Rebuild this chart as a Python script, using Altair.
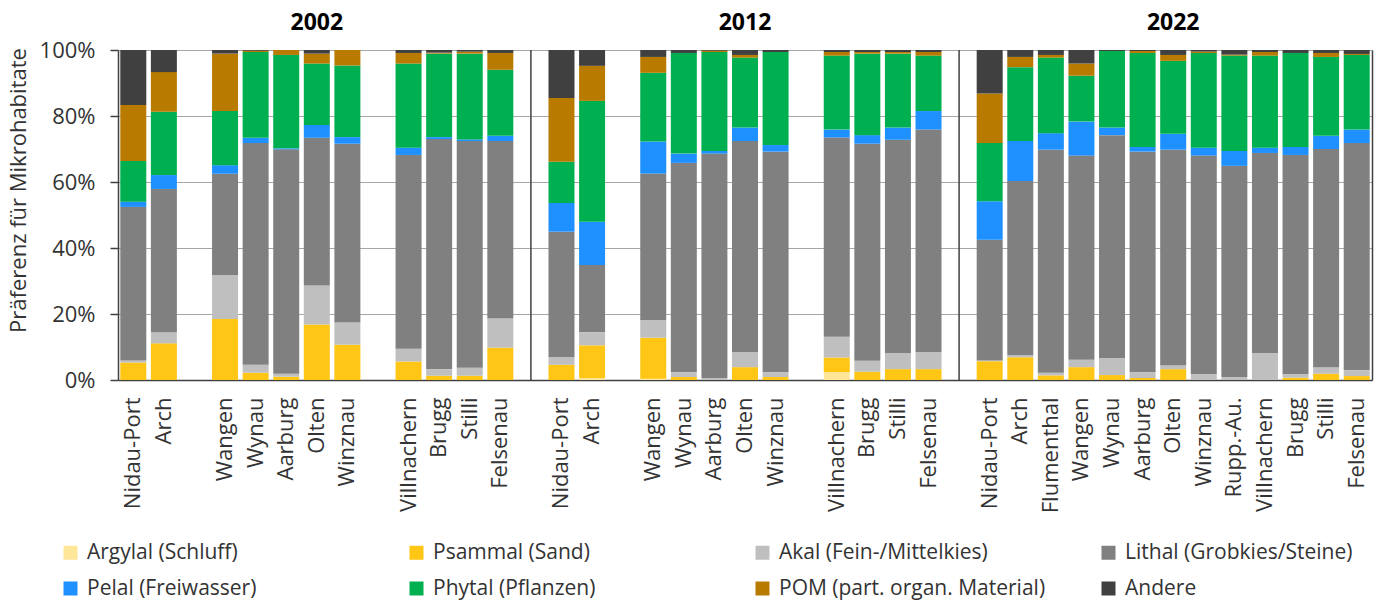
import altair as alt
import pandas as pd

# Microhabitat classes, bottom to top in each stacked bar
HABITATS = [
    "Argylal (Schluff)",
    "Psammal (Sand)",
    "Akal (Fein-/Mittelkies)",
    "Lithal (Grobkies/Steine)",
    "Pelal (Freiwasser)",
    "Phytal (Pflanzen)",
    "POM (part. organ. Material)",
    "Andere",
]
COLORS = ["#FFE699", "#FFC616", "#BFBFBF", "#808080",
          "#1E90FF", "#00B050", "#B97A00", "#404040"]

YEARS = ["2002", "2012", "2022"]

# Station sequence per survey year ("" leaves an empty slot between river sections)
sites_2002 = ["Nidau-Port", "Arch", "", "Wangen", "Wynau", "Aarburg", "Olten",
              "Winznau", "", "Villnachern", "Brugg", "Stilli", "Felsenau"]
sites_2012 = ["Nidau-Port", "Arch", "", "Wangen", "Wynau", "Aarburg", "Olten",
              "Winznau", "", "Villnachern", "Brugg", "Stilli", "Felsenau"]
sites_2022 = ["Nidau-Port", "Arch", "Flumenthal", "Wangen", "Wynau", "Aarburg",
              "Olten", "Winznau", "Rupp.-Au.", "Villnachern", "Brugg", "Stilli",
              "Felsenau"]

# Preference shares (%) per habitat, one value per station (gaps skipped)
pref_2002 = {
    "Argylal (Schluff)":            [0.0, 0.0, 0.0, 0.0, 0.0, 0.0, 0.0, 0.0, 0.0, 0.0, 0.0],
    "Psammal (Sand)":               [5.3, 11.1, 18.5, 2.2, 1.0, 16.8, 10.7, 5.6, 1.3, 1.3, 9.8],
    "Akal (Fein-/Mittelkies)":      [0.6, 3.4, 13.3, 2.4, 0.9, 11.8, 6.7, 3.9, 2.0, 2.4, 8.8],
    "Lithal (Grobkies/Steine)":     [46.6, 43.4, 30.7, 67.2, 68.0, 44.8, 54.2, 58.7, 69.7, 68.7, 53.8],
    "Pelal (Freiwasser)":           [1.6, 4.2, 2.6, 1.6, 0.3, 3.9, 2.0, 2.2, 0.6, 0.5, 1.6],
    "Phytal (Pflanzen)":            [12.3, 19.2, 16.4, 26.0, 28.3, 18.6, 21.7, 25.5, 25.3, 26.0, 20.0],
    "POM (part. organ. Material)":  [17.0, 12.0, 17.4, 0.4, 1.5, 3.0, 4.7, 3.2, 0.3, 0.6, 5.1],
    "Andere":                       [16.7, 6.7, 1.1, 0.2, 0.0, 1.1, 0.0, 0.9, 0.8, 0.5, 0.9],
}
pref_2012 = {
    "Argylal (Schluff)":            [0.0, 0.6, 0.4, 0.0, 0.0, 0.0, 0.0, 2.4, 0.0, 0.0, 0.0],
    "Psammal (Sand)":               [4.6, 9.9, 12.4, 0.9, 0.0, 3.9, 0.9, 4.4, 2.5, 3.3, 3.3],
    "Akal (Fein-/Mittelkies)":      [2.4, 4.0, 5.4, 1.5, 0.6, 4.6, 1.5, 6.3, 3.3, 4.9, 5.2],
    "Lithal (Grobkies/Steine)":     [37.9, 20.3, 44.3, 63.4, 68.0, 63.9, 66.8, 60.3, 65.8, 64.6, 67.4],
    "Pelal (Freiwasser)":           [8.7, 13.1, 9.7, 2.8, 0.8, 4.1, 2.0, 2.4, 2.6, 3.7, 5.6],
    "Phytal (Pflanzen)":            [12.5, 36.6, 20.8, 30.5, 30.0, 21.2, 28.2, 22.4, 24.7, 22.4, 16.8],
    "POM (part. organ. Material)":  [19.3, 10.6, 4.8, 0.0, 0.4, 0.8, 0.0, 1.1, 0.5, 0.5, 1.1],
    "Andere":                       [14.5, 4.8, 2.1, 0.9, 0.2, 1.5, 0.6, 0.6, 0.6, 0.6, 0.6],
}
pref_2022 = {
    "Argylal (Schluff)":            [0.0, 0.0, 0.0, 0.0, 0.0, 0.0, 0.0, 0.0, 0.0, 0.0, 0.0, 0.0, 0.0],
    "Psammal (Sand)":               [5.7, 6.9, 1.4, 3.9, 1.5, 0.6, 3.3, 0.0, 0.0, 0.0, 0.7, 1.9, 1.2],
    "Akal (Fein-/Mittelkies)":      [0.2, 0.6, 0.8, 2.2, 5.2, 1.8, 1.2, 1.8, 0.9, 8.2, 1.1, 2.0, 1.8],
    "Lithal (Grobkies/Steine)":     [36.6, 52.8, 67.6, 61.9, 67.5, 66.8, 65.3, 66.2, 64.0, 60.6, 66.4, 66.1, 68.8],
    "Pelal (Freiwasser)":           [11.7, 12.1, 5.0, 10.3, 2.3, 1.4, 4.8, 2.4, 4.5, 1.6, 2.4, 4.0, 4.1],
    "Phytal (Pflanzen)":            [17.6, 22.4, 22.9, 13.9, 23.2, 28.5, 22.1, 28.7, 28.9, 27.9, 28.5, 23.9, 22.6],
    "POM (part. organ. Material)":  [15.0, 3.1, 0.8, 3.7, 0.0, 0.6, 1.8, 0.4, 0.3, 1.1, 0.0, 1.2, 0.3],
    "Andere":                       [13.2, 2.1, 1.5, 4.1, 0.3, 0.3, 1.5, 0.5, 1.4, 0.6, 0.9, 0.9, 1.2],
}

SITES = {"2002": sites_2002, "2012": sites_2012, "2022": sites_2022}
PREF = {"2002": pref_2002, "2012": pref_2012, "2022": pref_2022}

# One band slot per station, empty slots for gaps and between the survey years
slots, rows, separators, year_slots = [], [], [], []
for yi, year in enumerate(YEARS):
    k = 0
    for si, site in enumerate(SITES[year]):
        if site == "":
            slots.append(f"{year}|gap{si}")
            continue
        key = f"{year}|{site}"
        slots.append(key)
        for hi, hab in enumerate(HABITATS):
            rows.append({"slot": key, "habitat": hab, "order": hi,
                         "pct": PREF[year][hab][k]})
        k += 1
    year_slots.append(f"{year}|Olten")
    if yi < len(YEARS) - 1:
        slots.append(f"{year}|sep")
        separators.append({"slot": f"{year}|sep"})

bars_df = pd.DataFrame(rows)
sep_df = pd.DataFrame(separators)

FONT = "Open Sans"
TEXT = "#333333"
AXIS_DARK = "#404040"

x_scale = alt.Scale(domain=slots, paddingInner=0.15, paddingOuter=0.075)
y_scale = alt.Scale(domain=[0, 1])

bars = alt.Chart(bars_df).mark_bar().encode(
    x=alt.X("slot:N", scale=x_scale, sort=slots, title=None,
            axis=alt.Axis(
                orient="bottom", labelAngle=-90, ticks=False, labelPadding=17,
                labelFont=FONT, labelFontSize=22, labelColor=TEXT,
                domainColor=AXIS_DARK, domainWidth=1.5, grid=False,
                labelExpr="(indexof(datum.value, 'gap') >= 0 || indexof(datum.value, 'sep') >= 0) ? '' : split(datum.value, '|')[1]",
                labelOverlap=False, labelLimit=300)),
    y=alt.Y("pct:Q", stack="normalize", scale=y_scale,
            title="Präferenz für Mikrohabitate",
            axis=alt.Axis(
                orient="left", values=[0, 0.2, 0.4, 0.6, 0.8, 1.0], format=".0%",
                labelFont=FONT, labelFontSize=22, labelColor=TEXT, labelPadding=15,
                tickSize=8, tickColor=AXIS_DARK, tickWidth=1.5,
                domainColor=AXIS_DARK, domainWidth=1.5,
                grid=True, gridColor="#A6A6A6", gridWidth=1,
                titleFont=FONT, titleFontSize=22, titleFontWeight="normal",
                titleColor=TEXT, titleAngle=-90, titleX=-100, titleY=140,
                titleAlign="center", titleBaseline="middle")),
    color=alt.Color("habitat:N", scale=alt.Scale(domain=HABITATS, range=COLORS),
                    title=None,
                    legend=alt.Legend(
                        orient="none", legendX=-58, legendY=492,
                        direction="horizontal", columns=4, gridAlign="all",
                        symbolType="square", symbolSize=196, symbolStrokeWidth=0,
                        symbolOpacity=1, labelFont=FONT, labelFontSize=21,
                        labelColor=TEXT, labelOffset=6, labelLimit=400,
                        columnPadding=52, rowPadding=14, padding=0)),
    order=alt.Order("order:Q", sort="ascending"),
)

# Dark separators between survey years, year headings and the right frame edge
seps = alt.Chart(sep_df).mark_rule(color=AXIS_DARK, strokeWidth=1.5).encode(
    x=alt.X("slot:N", scale=x_scale, sort=slots, title=None,
            axis=alt.Axis(
                orient="top", values=year_slots, ticks=False, tickSize=0,
                domain=False, grid=False, labelAngle=0,
                labelExpr="split(datum.value, '|')[0]",
                labelFont=FONT, labelFontSize=23, labelFontWeight="bold",
                labelColor="#000000", labelPadding=16)),
    y=alt.YDatum(0, type="quantitative", scale=y_scale, title=None,
                 axis=alt.Axis(orient="right", labels=False, ticks=False,
                               grid=False, domain=True, domainColor=AXIS_DARK,
                               domainWidth=1.5)),
    y2=alt.Y2Datum(1),
)

chart = alt.layer(bars, seps).resolve_axis(
    x="independent", y="independent"
).properties(
    width=1254, height=330,
    autosize=alt.AutoSizeParams(type="none"),
    padding={"left": 118, "top": 50, "right": 13, "bottom": 220},
).configure_view(stroke=None).configure(background="white")

chart.save("out.html", embed_options={"renderer": "svg", "actions": False})
